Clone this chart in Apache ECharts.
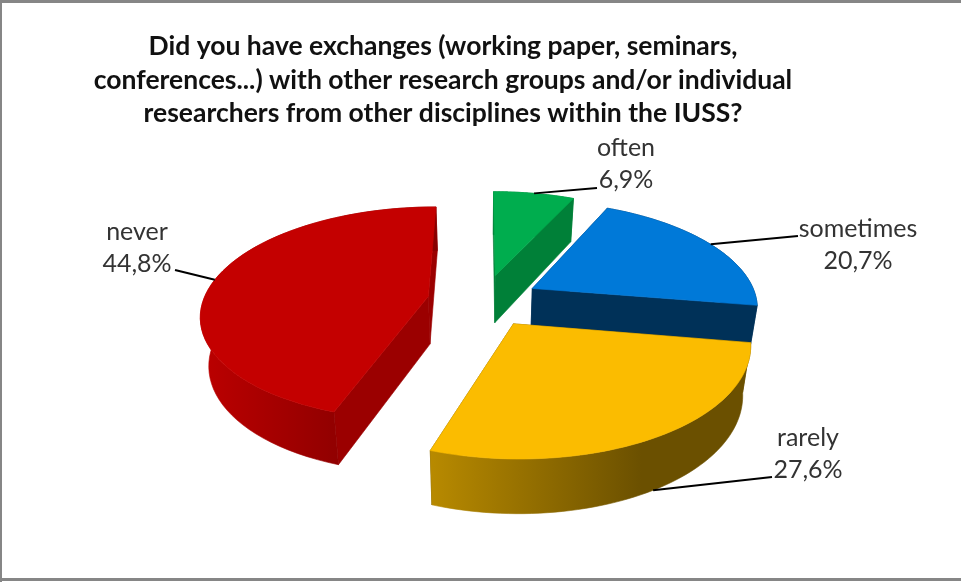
<!DOCTYPE html>
<html><head><meta charset="utf-8">
<style>html,body{margin:0;padding:0;background:#fff}#c{width:961px;height:582px}</style>
<script src="https://cdn.jsdelivr.net/npm/echarts@6/dist/echarts.min.js"></script>
</head><body><div id="c"></div>
<script>
const titleLines = ["Did you have exchanges (working paper, seminars,", "conferences...) with other research groups and/or individual", "researchers from other disciplines within the IUSS?"];
const categories = ["often", "sometimes", "rarely", "never"];
const shares = [6.9, 20.7, 27.6, 44.8];

// Appearance and layout of the tilted pie
const colors = {
  top:   ["#00AD4E", "#0079D8", "#FBBC00", "#C40000"],
  cut:   ["#008038", "#003158", "#6B5000", "#9B0000"],
  rimA:  ["#008038", "#003158", "#B88A00", "#BC0000"],
  rimB:  ["#008038", "#003158", "#6B5000", "#880000"]
};
const P = {cx: 483.5, cy: 300.5, R: 225, K: 105, p: 0.161, explode: 0.25, h: 48, shrink: 0.97};
const labelPos = [[626, 164], [858, 245], [808, 454], [137, 248]];
const leaderEnd = [[597, 188], [798, 236], [772, 477], [175, 270]];
const leaderOnBase = [false, false, true, false];

const total = shares.reduce((a, b) => a + b, 0);
function project(X, Y, low) {
  const s = 1 / (1 - P.p * Y);
  let x = P.cx + P.R * X * s, y = P.cy + P.K * Y * s;
  if (low) { x = P.cx + (x - P.cx) * P.shrink; y += P.h * Math.pow(s, 0.6); }
  return [x, y];
}
function slicePoint(theta, r, mid, low) {
  const X = P.explode * Math.sin(mid) + r * Math.sin(theta);
  const Y = -P.explode * Math.cos(mid) - r * Math.cos(theta);
  return project(X, Y, low);
}
function renderSlice(params, api) {
  const i = params.dataIndex;
  let before = 0;
  for (let k = 0; k < i; k++) before += shares[k];
  const a0 = before / total * 2 * Math.PI;
  const a1 = (before + api.value(0)) / total * 2 * Math.PI;
  const mid = (a0 + a1) / 2;
  const steps = 60;
  const top = [], base = [];
  for (let k = 0; k <= steps; k++) {
    const t = a0 + (a1 - a0) * k / steps;
    top.push(slicePoint(t, 1, mid, false));
    base.push(slicePoint(t, 1, mid, true));
  }
  const apexT = slicePoint(0, 0, mid, false), apexB = slicePoint(0, 0, mid, true);
  const xs = base.concat(top).map(p => p[0]);
  const minX = Math.min.apply(null, xs), maxX = Math.max.apply(null, xs);
  const flat = (pts, fill) => ({type: 'polygon', shape: {points: pts},
    style: {fill: fill, stroke: fill, lineWidth: 0.6}});
  const rimFill = {type: 'linear', x: minX, y: 0, x2: i === 2 ? minX + (maxX - minX) * 0.66 : maxX - (maxX-minX)*0.3, y2: 0, global: true,
    colorStops: [{offset: 0, color: colors.rimA[i]}, {offset: 1, color: colors.rimB[i]}]};
  const children = [
    flat([apexT, top[0], base[0], apexB], colors.cut[i]),
    flat([apexT, top[steps], base[steps], apexB], colors.cut[i]),
    flat(top.concat(base.slice().reverse()), rimFill),
    flat([apexT].concat(top), colors.top[i])
  ];
  return {type: 'group', children: children};
}
function renderNote(params, api) {
  const i = params.dataIndex;
  let before = 0;
  for (let k = 0; k < i; k++) before += shares[k];
  const m = (before + api.value(0) / 2) / total * 2 * Math.PI;
  const anchor = slicePoint(m, 1, m, leaderOnBase[i]);
  const txt = categories[i] + "\n" + api.value(0).toFixed(1).replace(".", ",") + "%";
  return {type: 'group', children: [
    {type: 'polyline', shape: {points: [anchor, leaderEnd[i]]}, style: {stroke: '#000', lineWidth: 2, fill: null}},
    {type: 'text', style: {text: txt, x: labelPos[i][0], y: labelPos[i][1], align: 'center', verticalAlign: 'middle',
      fontFamily: 'Lato', fontSize: 25, lineHeight: 32, fill: '#333'}}
  ]};
}
const chart = echarts.init(document.getElementById('c'), null, {renderer: 'canvas'});
chart.setOption({
  animation: false,
  backgroundColor: '#fff',
  title: {text: titleLines.join("\n"), left: 438, top: 25, textAlign: 'center',
    textStyle: {fontFamily: 'Lato', fontWeight: 'bold', fontSize: 26.5, lineHeight: 33.5, color: '#111'}},
  graphic: [
    {type: 'rect', silent: true, z: -1, shape: {x: 0, y: 0, width: 961, height: 3}, style: {fill: '#868686'}},
    {type: 'rect', silent: true, z: -1, shape: {x: 0, y: 0, width: 2, height: 582}, style: {fill: '#868686'}},
    {type: 'rect', silent: true, z: -1, shape: {x: 0, y: 578, width: 961, height: 3}, style: {fill: '#868686'}}
  ],
  series: [
    {type: 'custom', coordinateSystem: 'none', renderItem: renderSlice, silent: true, z: 2,
     data: shares.map(v => [v])},
    {type: 'custom', coordinateSystem: 'none', renderItem: renderNote, silent: true, z: 3,
     data: shares.map(v => [v])}
  ]
});
</script></body></html>
